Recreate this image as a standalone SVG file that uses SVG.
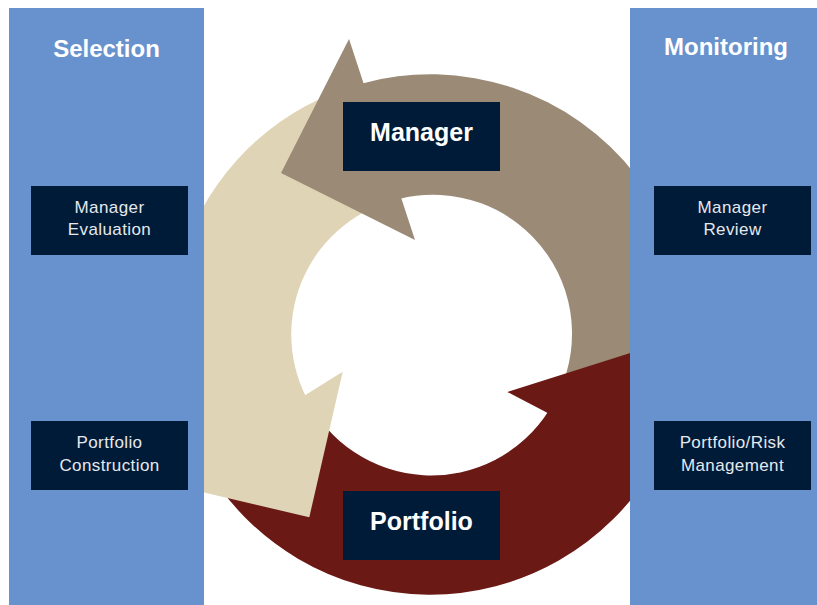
<svg xmlns="http://www.w3.org/2000/svg" width="817" height="605" viewBox="0 0 817 605">
  <style>
    .panel { fill: #6792CD; }
    .box { fill: #001B38; }
    .head { font-family: "Liberation Sans", Arial, sans-serif; font-weight: bold; fill: #FFFFFF; text-anchor: middle; }
    .sub { font-family: "Liberation Sans", Arial, sans-serif; font-size: 17px; fill: #E6E8EC; text-anchor: middle; letter-spacing: 0.4px; }
    .taupe { fill: #9B8A76; }
    .beige { fill: #E0D4B6; }
    .red { fill: #6B1914; }
  </style>
  <rect width="817" height="605" fill="#FFFFFF"/>
  <g id="connectors">
    <path class="taupe" d="M654.7,465.5 A260,260 0 0 0 360.2,83.9 L399.2,198.9 A139,139 0 0 1 548.9,410.5 Z"/>
    <path class="beige" d="M360.2,83.9 A260,260 0 0 0 203.4,462.2 L306.1,396.9 A139,139 0 0 1 399.2,198.9 Z"/>
    <path class="red" d="M203.4,462.2 A260,260 0 0 0 654.7,465.5 L548.9,410.5 A139,139 0 0 1 306.1,396.9 Z"/>
    <polygon class="taupe" points="349,39 281,173 415,240"/>
    <polygon class="beige" points="342.7,371.7 309.3,517.3 164,483"/>
    <polygon class="red" points="507.3,392 650,346.7 695,490"/>
  </g>
  <g id="panel-selection">
    <rect class="panel" x="9" y="8" width="195" height="597"/>
    <text class="head" x="106.5" y="57" font-size="24">Selection</text>
  </g>
  <g id="panel-monitoring">
    <rect class="panel" x="630" y="8" width="187" height="597"/>
    <text class="head" x="726" y="55" font-size="24">Monitoring</text>
  </g>
  <g id="node-manager">
    <rect class="box" x="343" y="102" width="157" height="69"/>
    <text class="head" x="421.5" y="141" font-size="25">Manager</text>
  </g>
  <g id="node-portfolio">
    <rect class="box" x="343" y="491" width="157" height="69"/>
    <text class="head" x="421.5" y="530" font-size="25">Portfolio</text>
  </g>
  <g id="node-manager-evaluation">
    <rect class="box" x="31" y="186" width="157" height="69"/>
    <text class="sub" x="109.5" y="213">Manager</text>
    <text class="sub" x="109.5" y="235">Evaluation</text>
  </g>
  <g id="node-portfolio-construction">
    <rect class="box" x="31" y="421" width="157" height="69"/>
    <text class="sub" x="109.5" y="448">Portfolio</text>
    <text class="sub" x="109.5" y="471">Construction</text>
  </g>
  <g id="node-manager-review">
    <rect class="box" x="654" y="186" width="157" height="69"/>
    <text class="sub" x="732.5" y="213">Manager</text>
    <text class="sub" x="732.5" y="235">Review</text>
  </g>
  <g id="node-portfolio-risk">
    <rect class="box" x="654" y="421" width="157" height="69"/>
    <text class="sub" x="732.5" y="448">Portfolio/Risk</text>
    <text class="sub" x="732.5" y="471">Management</text>
  </g>
</svg>
